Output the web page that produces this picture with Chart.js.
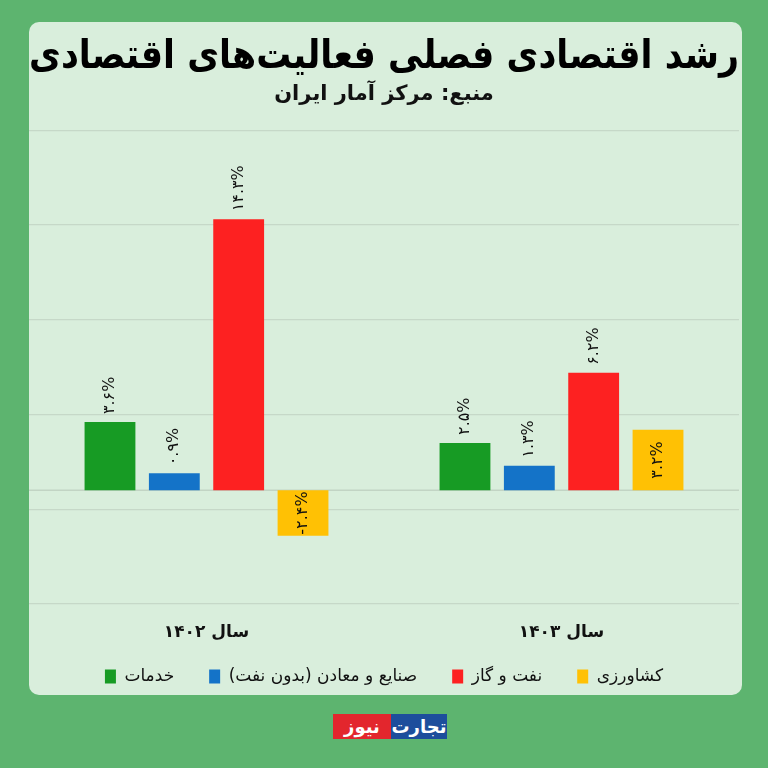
<!DOCTYPE html>
<html>
<head>
<meta charset="utf-8">
<script src="https://cdn.jsdelivr.net/npm/chart.js@4"></script>
<style>
html,body{margin:0;padding:0;width:768px;height:768px;overflow:hidden;background:#5db46f;}
#panel{position:absolute;left:29px;top:22px;width:713px;height:673px;background:#d9eedc;border-radius:10px;}
#wrap{position:absolute;left:29px;top:22px;width:713px;height:673px;}
#logo{position:absolute;left:333px;top:714px;height:25px;display:flex;direction:ltr;font-family:'DejaVu Sans',sans-serif;font-weight:bold;color:#fff;font-size:18px;line-height:25px;}
#logo span{display:block;text-align:center;height:25px;}
#logo .r{background:#e3262d;width:58px;}
#logo .b{background:#1d4e9c;width:56px;}
</style>
</head>
<body>
<div id="panel"></div>
<div id="wrap"><canvas id="c" width="713" height="673"></canvas></div>
<div id="logo"><span class="r">نیوز</span><span class="b">تجارت</span></div>
<script>
const categories = ['سال ۱۴۰۲', 'سال ۱۴۰۳'];
const seriesNames = ['خدمات', 'صنایع و معادن (بدون نفت)', 'نفت و گاز', 'کشاورزی'];
const khadamat = [3.6, 2.5];
const sanaye = [0.9, 1.3];
const naftGaz = [14.3, 6.2];
const keshavarzi = [-2.4, 3.2];
const yMin = -6, yMax = 19, yStep = 5;

const FONT = "'DejaVu Sans', 'Noto Sans', sans-serif";
const fa = s => String(s).replace(/\d/g, d => '۰۱۲۳۴۵۶۷۸۹'[d]);

const labelPlugin = {
  id: 'barLabels',
  afterDatasetsDraw(chart) {
    const ctx = chart.ctx;
    chart.data.datasets.forEach((ds, di) => {
      const meta = chart.getDatasetMeta(di);
      meta.data.forEach((bar, i) => {
        const v = ds.data[i];
        const txt = fa(v) + '%';
        ctx.save();
        ctx.font = '16px ' + FONT;
        ctx.fillStyle = '#111';
        ctx.textBaseline = 'middle';
        ctx.direction = 'ltr';
        if (ds.labelPos === 'center') {
          ctx.translate(bar.x, (bar.y + bar.base) / 2);
          ctx.rotate(-Math.PI / 2);
          ctx.textAlign = 'center';
          ctx.fillText(txt, 0, 0);
        } else {
          ctx.translate(bar.x, bar.y - 8);
          ctx.rotate(-Math.PI / 2);
          ctx.textAlign = 'left';
          ctx.fillText(txt, 0, 0);
        }
        ctx.restore();
      });
    });
  }
};

const zeroLine = {
  id: 'zeroLine',
  beforeDatasetsDraw(chart) {
    const y = chart.scales.y.getPixelForValue(0);
    const a = chart.chartArea, ctx = chart.ctx;
    ctx.save();
    ctx.strokeStyle = '#c2d4c4';
    ctx.lineWidth = 1.5;
    ctx.beginPath();
    ctx.moveTo(a.left, y);
    ctx.lineTo(a.right, y);
    ctx.stroke();
    ctx.restore();
  }
};

// let the category labels draw below the compact axis box without being clipped
const labelRoom = {
  id: 'labelRoom',
  afterLayout(chart) { chart.scales.x.bottom += 30; }
};

new Chart(document.getElementById('c'), {
  type: 'bar',
  data: {
    labels: categories,
    datasets: [
      { label: seriesNames[0], data: khadamat, backgroundColor: '#179b24' },
      { label: seriesNames[1], data: sanaye, backgroundColor: '#1473c8' },
      { label: seriesNames[2], data: naftGaz, backgroundColor: '#fd2121' },
      { label: seriesNames[3], data: keshavarzi, backgroundColor: '#ffc104', labelPos: 'center' }
    ]
  },
  options: {
    responsive: false,
    animation: false,
    devicePixelRatio: 1,
    layout: { padding: { left: 0, right: 3, top: 0, bottom: 0 } },
    datasets: { bar: { categoryPercentage: 0.725, barPercentage: 0.79, borderWidth: 0 } },
    scales: {
      x: {
        grid: { display: false, drawTicks: false },
        border: { display: false },
        ticks: { color: '#111', padding: 18, font: { family: FONT, size: 17, weight: 'bold' } },
        afterFit: s => { s.height = 29; }
      },
      y: {
        min: yMin, max: yMax,
        ticks: { display: false, stepSize: yStep },
        grid: { color: '#c6d8c8', lineWidth: 1.2, drawTicks: false },
        border: { display: false }
      }
    },
    plugins: {
      title: {
        display: true,
        text: 'رشد اقتصادی فصلی فعالیت‌های اقتصادی',
        color: '#000',
        font: { family: FONT, size: 40, weight: 'bold' },
        padding: { top: 12, bottom: 0 }
      },
      subtitle: {
        display: true,
        text: 'منبع: مرکز آمار ایران',
        color: '#111',
        font: { family: FONT, size: 21, weight: 'bold' },
        padding: { top: 0, bottom: 23 }
      },
      legend: {
        position: 'bottom',
        textDirection: 'rtl',
        labels: { boxWidth: 11, boxHeight: 14, padding: 35, color: '#111', font: { family: FONT, size: 17 } }
      },
      tooltip: { enabled: false }
    }
  },
  plugins: [zeroLine, labelPlugin, labelRoom]
});
</script>
</body>
</html>
